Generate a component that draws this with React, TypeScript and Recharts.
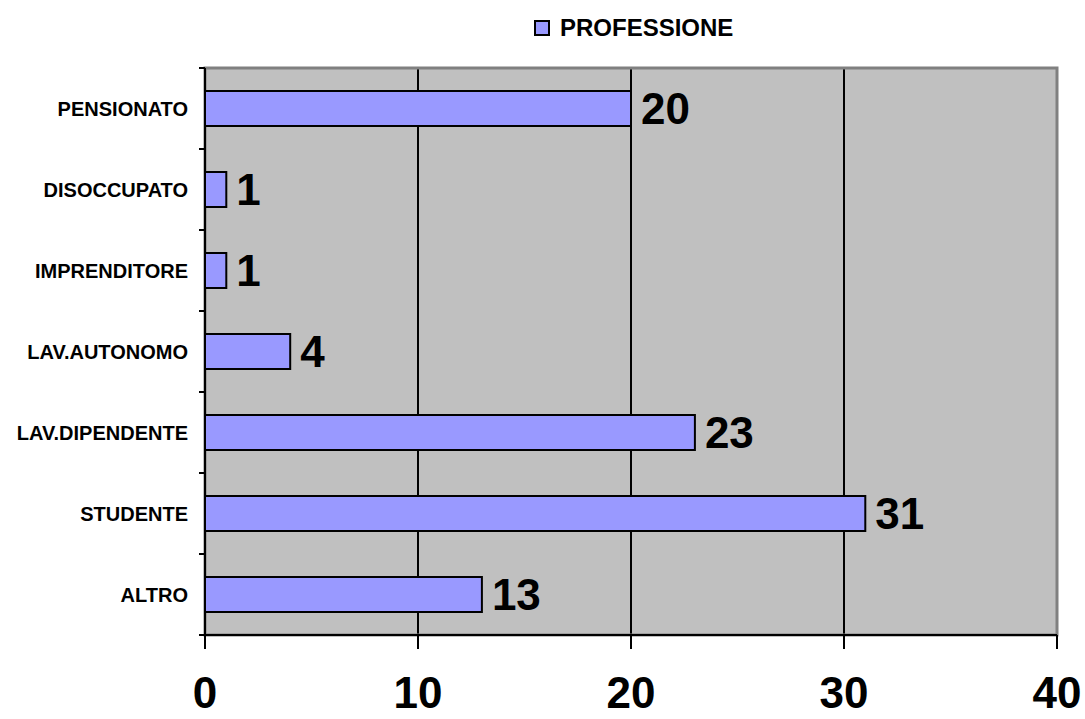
import { BarChart, Bar, XAxis, YAxis, CartesianGrid, LabelList, ReferenceArea } from 'recharts';

const categories = ['PENSIONATO', 'DISOCCUPATO', 'IMPRENDITORE', 'LAV.AUTONOMO', 'LAV.DIPENDENTE', 'STUDENTE', 'ALTRO'];
const values = [20, 1, 1, 4, 23, 31, 13];
const xTicks = [0, 10, 20, 30, 40];
const seriesName = 'PROFESSIONE';

const data = categories.map((name, i) => ({ name, value: values[i] }));

const FONT = '"Liberation Sans", Arial, sans-serif';

// category label + tick marks drawn between categories, like the original
const CategoryTick = (props: any) => {
    const { x, y, payload, index, visibleTicksCount } = props;
    const half = payload && payload.offset ? payload.offset : 40.5;
    const isLast = index === visibleTicksCount - 1;
    return (
        <g>
            <line x1={x + 11} x2={x + 17} y1={y - half} y2={y - half} stroke="#000" strokeWidth={2} />
            {isLast && <line x1={x + 11} x2={x + 17} y1={y + half} y2={y + half} stroke="#000" strokeWidth={2} />}
            <text x={x} y={y} dy={7} textAnchor="end" fontFamily={FONT} fontWeight="bold" fontSize={20} fill="#000">
                {payload.value}
            </text>
        </g>
    );
};

const ValueTick = (props: any) => {
    const { x, y, payload } = props;
    return (
        <text x={x} y={y + 57} textAnchor="middle" fontFamily={FONT} fontWeight="bold" fontSize={44} fill="#000">
            {payload.value}
        </text>
    );
};

export default function App() {
    return (
        <div style={{ position: 'absolute', left: 0, top: 0, width: 1085, height: 719, background: '#fff' }}>
            <div
                style={{
                    position: 'absolute',
                    left: 534,
                    top: 14,
                    display: 'flex',
                    alignItems: 'center',
                    fontFamily: FONT,
                    fontWeight: 'bold',
                    fontSize: 24,
                    color: '#000',
                }}
            >
                <span style={{ display: 'inline-block', width: 12, height: 12, background: '#9999FF', border: '2px solid #000', marginRight: 10 }} />
                <span>{seriesName}</span>
            </div>
            <BarChart
                width={1085}
                height={719}
                data={data}
                layout="vertical"
                margin={{ top: 68, right: 28, left: 0, bottom: 0 }}
                barSize={35}
            >
                <CartesianGrid horizontal={false} vertical={true} stroke="#000" strokeWidth={2} fill="#C0C0C0" />
                <ReferenceArea x1={0} x2={40} fill="none" stroke="#808080" strokeWidth={3} />
                <XAxis
                    type="number"
                    domain={[0, 40]}
                    ticks={xTicks}
                    height={84}
                    tickSize={14}
                    axisLine={{ stroke: '#000', strokeWidth: 2 }}
                    tickLine={{ stroke: '#000', strokeWidth: 2 }}
                    tick={<ValueTick />}
                    interval={0}
                />
                <YAxis
                    type="category"
                    dataKey="name"
                    width={205}
                    tickSize={6}
                    tickMargin={11}
                    tickLine={false}
                    axisLine={{ stroke: '#000', strokeWidth: 2 }}
                    tick={<CategoryTick />}
                    interval={0}
                />
                <Bar dataKey="value" fill="#9999FF" stroke="#000" strokeWidth={2} isAnimationActive={false}>
                    <LabelList
                        dataKey="value"
                        position="right"
                        offset={10}
                        fill="#000"
                        fontFamily={FONT}
                        fontWeight="bold"
                        fontSize={44}
                    />
                </Bar>
            </BarChart>
        </div>
    );
}
